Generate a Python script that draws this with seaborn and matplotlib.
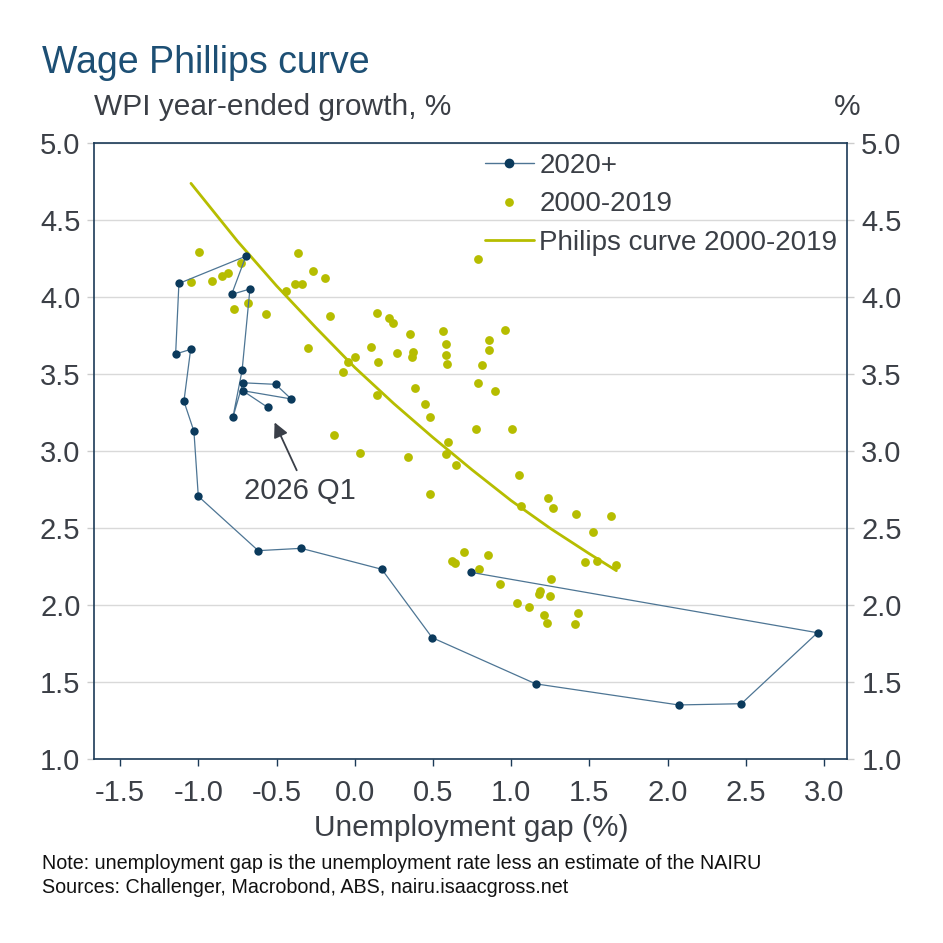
import numpy as np
import pandas as pd
import matplotlib
matplotlib.use('Agg')
import matplotlib.pyplot as plt
import seaborn as sns
from matplotlib.lines import Line2D

# 2020 Q1 .. 2026 Q1 : unemployment gap (%) and WPI year-ended growth (%)
gap_2020 = [0.744, 2.959, 2.472, 2.071, 1.157, 0.495, 0.173, -0.342, -0.617,
            -1.000, -1.028, -1.092, -1.049, -1.145, -1.124, -0.696, -0.787,
            -0.670, -0.720, -0.779, -0.715, -0.506, -0.406, -0.717, -0.557]
wpi_2020 = [2.214, 1.822, 1.361, 1.353, 1.490, 1.790, 2.234, 2.370, 2.355,
            2.708, 3.130, 3.325, 3.662, 3.632, 4.090, 4.267, 4.019,
            4.054, 3.526, 3.220, 3.445, 3.435, 3.340, 3.394, 3.286]

# 2000-2019 observations
gap_0019 = [-0.994, -0.725, -1.047, -0.915, -0.851, -0.809, -0.769, -0.685, -0.568,
            -0.365, -0.268, -0.191, -0.440, -0.381, -0.338, -0.161, -0.300, 0.002,
            0.103, 0.787, 0.141, 0.220, 0.245, 0.352, 0.564, 0.585, 0.585,
            0.590, 0.860, 0.860, 0.964, 0.814, 0.268, 0.373, 0.365, -0.044,
            -0.074, 0.146, 0.791, 0.895, 0.385, 0.448, 0.482, -0.132, 0.031,
            0.339, 0.479, 0.778, 1.005, 0.594, 0.582, 0.645, 1.050, 1.238,
            1.270, 1.063, 0.144, 1.417, 1.636, 1.526, 1.475, 1.551, 1.673,
            0.624, 0.644, 0.699, 0.850, 0.797, 0.929, 1.253, 1.183, 1.181,
            1.247, 1.040, 1.117, 1.213, 1.430, 1.232, 1.408]
wpi_0019 = [4.294, 4.224, 4.098, 4.108, 4.140, 4.158, 3.925, 3.965, 3.893,
            4.289, 4.172, 4.127, 4.042, 4.084, 4.086, 3.879, 3.669, 3.614,
            3.677, 4.249, 3.900, 3.864, 3.831, 3.760, 3.783, 3.697, 3.625,
            3.566, 3.725, 3.656, 3.788, 3.558, 3.636, 3.643, 3.612, 3.580,
            3.513, 3.581, 3.444, 3.390, 3.409, 3.305, 3.223, 3.106, 2.986,
            2.961, 2.721, 3.143, 3.142, 3.060, 2.984, 2.910, 2.847, 2.698,
            2.631, 2.647, 3.364, 2.596, 2.580, 2.477, 2.279, 2.290, 2.264,
            2.289, 2.276, 2.344, 2.329, 2.236, 2.140, 2.169, 2.093, 2.073,
            2.062, 2.013, 1.991, 1.939, 1.948, 1.887, 1.879]

# Phillips curve
curve_gap = [-1.047, -0.75, -0.5, -0.25, 0.0, 0.25, 0.5, 0.75, 1.0, 1.25, 1.5, 1.673]
curve_wpi = [4.74, 4.365, 4.075, 3.805, 3.545, 3.31, 3.09, 2.88, 2.68, 2.50, 2.335, 2.225]

x_ticks = [-1.5, -1.0, -0.5, 0.0, 0.5, 1.0, 1.5, 2.0, 2.5, 3.0]
y_ticks = [1.0, 1.5, 2.0, 2.5, 3.0, 3.5, 4.0, 4.5, 5.0]

NAVY = '#0b3a5c'
LINE = '#4d7594'
GREEN = '#b6bd00'
TXT = '#3b3f46'
TITLE = '#1d4f74'

sns.set_theme(style='white')
plt.rcParams['font.family'] = ['Liberation Sans', 'DejaVu Sans']
plt.rcParams['axes.unicode_minus'] = False

df20 = pd.DataFrame({'gap': gap_2020, 'wpi': wpi_2020})
df00 = pd.DataFrame({'gap': gap_0019, 'wpi': wpi_0019})
dfc = pd.DataFrame({'gap': curve_gap, 'wpi': curve_wpi})

fig = plt.figure(figsize=(9.43, 9.43), dpi=100)
ax = fig.add_axes([0.100, 0.1948, 0.7986, 0.6532])

sns.scatterplot(data=df00, x='gap', y='wpi', color=GREEN, s=40, linewidth=0, ax=ax, zorder=2)
sns.lineplot(data=dfc, x='gap', y='wpi', sort=False, estimator=None, color=GREEN, lw=2.0, ax=ax, zorder=3)
sns.lineplot(data=df20, x='gap', y='wpi', sort=False, estimator=None, color=LINE, lw=0.9, ax=ax, zorder=4)
sns.scatterplot(data=df20, x='gap', y='wpi', color=NAVY, s=36, linewidth=0, ax=ax, zorder=5)

ax.annotate('2026 Q1', xy=(gap_2020[-1], wpi_2020[-1]), xytext=(-0.35, 2.74),
            ha='center', va='center', fontsize=21, color=TXT,
            arrowprops=dict(arrowstyle='-|>', color='#3a3f48', lw=1.3, relpos=(0.5, 1.0),
                            mutation_scale=22, shrinkA=3, shrinkB=12))

ax.set_xlim(-1.665, 3.15)
ax.set_ylim(1.0, 5.0)
ax.set_xticks(x_ticks)
ax.set_xticklabels([f'{v:.1f}' for v in x_ticks])
ax.set_yticks(y_ticks)
ax.set_yticklabels([f'{v:.1f}' for v in y_ticks])
ax.grid(axis='y', color='#d9d9d9', lw=1.0)
ax.set_axisbelow(True)

for sp in ax.spines.values():
    sp.set_color('#1b3a57')
    sp.set_linewidth(1.2)

ax.tick_params(axis='x', bottom=True, direction='out', length=5, width=1, color='#1b3a57',
               labelsize=21, labelcolor=TXT, pad=9)
ax.tick_params(axis='y', left=True, right=True, labelleft=True, labelright=True,
               direction='out', length=5, width=1, color='#cccccc',
               labelsize=21, labelcolor=TXT, pad=5)

ax.set_xlabel('Unemployment gap (%)', fontsize=21.5, color=TXT, labelpad=5)
ax.set_ylabel('')

handles = [
    Line2D([], [], color=LINE, lw=1.0, marker='o', markersize=6, markerfacecolor=NAVY,
           markeredgecolor=NAVY),
    Line2D([], [], color=GREEN, ls='none', marker='o', markersize=6.3, markeredgewidth=0),
    Line2D([], [], color=GREEN, lw=2.0),
]
labels = ['2020+', '2000-2019', 'Philips curve 2000-2019']
leg = ax.legend(handles, labels, loc='upper left', bbox_to_anchor=(0.519, 0.985),
                frameon=False, fontsize=20, handlelength=1.75, handletextpad=0.2,
                labelspacing=0.46, borderpad=0, borderaxespad=0)
for t in leg.get_texts():
    t.set_color(TXT)

fig.text(0.0445, 0.933, 'Wage Phillips curve', fontsize=27, color=TITLE, va='center', ha='left')
fig.text(0.100, 0.8865, 'WPI year-ended growth, %', fontsize=21.5, color=TXT, va='center', ha='left')
fig.text(0.912, 0.8865, '%', fontsize=21.5, color=TXT, va='center', ha='right')
fig.text(0.0445, 0.0845, 'Note: unemployment gap is the unemployment rate less an estimate of the NAIRU',
         fontsize=14.2, color='#111111', va='center', ha='left')
fig.text(0.0445, 0.0592, 'Sources: Challenger, Macrobond, ABS, nairu.isaacgross.net',
         fontsize=14.2, color='#111111', va='center', ha='left')

fig.savefig('out.png', dpi=100)
